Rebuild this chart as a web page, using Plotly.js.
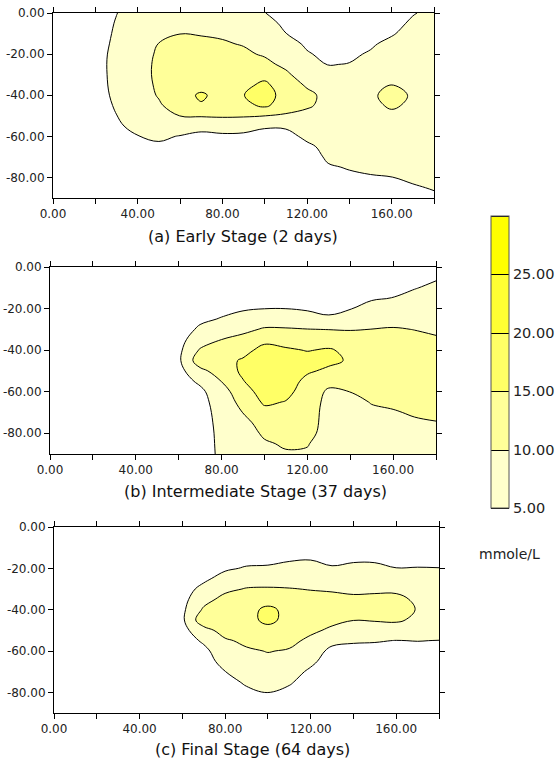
<!DOCTYPE html>
<html>
<head>
<meta charset="utf-8">
<script src="https://cdn.plot.ly/plotly-3.0.1.min.js"></script>
<style>html,body{margin:0;padding:0;background:#fff;}#chart{width:558px;height:764px;}</style>
</head>
<body>
<div id="chart"></div>
<script>
// grid coordinates (distance, depth)
const xGrid = [0,10,20,30,40,50,60,70,80,90,100,110,120,130,140,150,160,170,180];
const yGrid = [0,-5,-10,-15,-20,-25,-30,-35,-40,-45,-50,-55,-60,-65,-70,-75,-80,-85,-90];

// concentration (mmole/L), one array per x column, values from depth 0 down to -90
const zEarly = [
  [1.5,1.5,1.5,1.5,1.5,1.5,1.5,1.5,1.5,1.5,1.5,1.5,1.5,1.5,1.5,1.5,1.5,1.5,1.5],
  [2.5,2.6,2.7,2.8,2.8,2.8,2.8,2.8,2.8,2.7,2.6,2.4,2.2,2,1.9,1.8,1.7,1.6,1.5],
  [3.8,3.9,4,4,4,4,4,4,4,3.9,3.7,3.4,3,2.6,2.3,2,2,2,2],
  [4.95,5.15,5.3,5.5,5.75,5.85,5.8,5.7,5.5,5.25,4.95,4.5,4,3.5,3,2.6,2.3,2,2],
  [6,6.5,7,7.6,8.1,8.4,8.5,8.4,8.1,7.6,6.8,5.9,4.9,4,3.3,2.8,2.4,2.1,2],
  [7,7.8,9,10.1,10.6,10.8,10.8,10.6,10.3,9.5,8.3,7.2,5.7,4.3,3.5,3,2.6,2.3,2.1],
  [8.2,9.1,9.95,11,11.6,12,12.3,12.6,12.8,12,10.05,7.5,4.8,3.8,3.2,2.8,2.5,2.2,2],
  [8.5,9.2,9.7,11,11.8,12.3,12.7,13,15.8,14.5,10.2,8,2.7,2.4,2.2,2.1,2,2,2],
  [8.6,9.2,9.6,10.3,11.2,11.8,12.3,12.8,13,12.5,10.3,8.3,3.7,3,2.6,2.3,2.1,2,2],
  [8.6,9,9.4,9.8,10.6,11.6,12.6,13.8,14.9,13.8,10.3,7.7,3.6,3,2.6,2.3,2.1,2,2],
  [5.1,6.5,7.8,8.8,9.6,11,13.5,16,17,15.8,10.05,5.5,3.5,2.9,2.5,2.3,2.1,2,2],
  [3.2,4.1,5.05,6.3,7.7,9.1,10.8,12.2,13.2,12.6,9.3,5.5,3.8,3.2,2.8,2.5,2.3,2.1,2],
  [2.5,3,3.7,4.5,5.3,6.4,7.7,9.5,11,10.6,8.7,7.2,5.8,4.3,3.5,3,2.6,2.4,2.2],
  [2,2.5,3,3.6,4.2,4.9,6,7.5,8.8,8.7,8,7.3,6.6,6,5.5,4.7,4,3.4,3],
  [2.3,2.8,3.4,4,4.5,5.1,6.3,7.3,7.8,7.8,7.5,7,6.5,6.1,5.7,5.2,4.5,3.8,3.2],
  [3,3.5,4,4.6,5.3,6.2,7.2,8.2,9.2,8.9,8,7.3,6.8,6.4,6,5.5,4.8,4,3.4],
  [3.5,4,4.7,5.8,6.8,7.7,8.6,10.05,11.5,10.6,9,7.8,7.1,6.7,6.3,5.8,4.95,4.2,3.6],
  [4.8,5.5,6.2,6.9,7.5,8,8.6,9.1,9.5,9.2,8.5,7.7,7.2,6.8,6.5,6.1,5.5,4.7,4],
  [5.8,6.3,6.8,7.2,7.6,8,8.3,8.5,8.6,8.4,8,7.6,7.2,6.9,6.6,6.2,5.8,5.2,4.5]
];

const zIntermediate = [
  [1,1,1,1,1,1,1,1,1,1,1,1,1,1,1,1,1,1,1],
  [1.1,1.1,1.1,1.1,1.1,1.1,1.1,1.1,1.1,1.1,1.1,1.1,1.1,1.1,1.1,1.1,1.1,1.1,1.1],
  [1.2,1.2,1.2,1.2,1.2,1.2,1.2,1.2,1.2,1.2,1.2,1.2,1.2,1.2,1.2,1.2,1.2,1.2,1.2],
  [1.3,1.3,1.3,1.3,1.3,1.3,1.3,1.3,1.3,1.3,1.3,1.3,1.3,1.3,1.3,1.3,1.3,1.3,1.3],
  [1.4,1.4,1.4,1.5,1.5,1.6,1.7,1.8,1.9,2,1.9,1.8,1.7,1.6,1.6,1.5,1.5,1.5,1.5],
  [1.2,1.3,1.5,1.7,2,2.3,2.6,2.9,3.1,3.2,2.9,2.6,2.3,2.1,2,1.9,1.9,1.9,1.9],
  [1.2,1.4,1.7,2,2.4,2.8,3.2,3.6,3.9,4.1,3.5,3,2.6,2.3,2.1,2,2,2,2],
  [1.5,2,2.5,3,3.6,4.3,5.6,7.5,10.5,13,8.6,5.8,4,3.4,3,2.8,2.6,2.5,2.4],
  [1.8,2.2,2.7,3.3,4.1,5.2,7.4,10.05,12,13.5,12.5,10.1,8,7.2,6.8,6.5,6.3,6.2,6.1],
  [2,2.5,3.1,3.8,4.6,6.4,8.8,11.5,13.5,15.5,15.8,14.8,13,11.5,10.1,8.5,7.5,7,6.8],
  [2.2,2.7,3.3,4,4.95,7.4,10.5,13.8,16.5,18,18.2,17.8,17,15.7,13.6,12,10.8,9.4,8.6],
  [2.3,2.8,3.4,4.1,4.97,7.5,10.4,13.2,15.6,17.5,17.8,17.2,16.2,14.8,13.5,12.5,11.6,10.6,9.5],
  [2.4,2.9,3.5,4.2,4.5,6.8,10.1,12.8,14.8,16.6,15.6,13.8,13,12.6,12.3,12.2,11.6,10.3,9.4],
  [2.5,3,3.6,3.9,4.2,5.5,9.9,13,15.4,16,14.2,11.5,9.2,8.5,8.2,8,7.8,7.5,7.3],
  [2.7,3.2,3.8,4.4,4.85,7,9.7,12.5,14,14.5,13.4,11.8,10.05,8.8,8.3,8,7.8,7.6,7.4],
  [3,3.6,4.2,4.7,6,7.8,10.05,11.8,12.8,13.2,13,12.2,11.3,10.2,9.3,8.7,8.3,8,7.8],
  [3.3,3.9,4.5,5.05,6.4,8.2,10.4,11.8,12.5,12.8,12.7,12.2,11.5,10.7,9.7,9,8.6,8.3,8.1],
  [3.6,4.1,4.85,5.9,7,8.4,9.9,11.2,12,12.4,12.4,12,11.5,11,10.4,9.5,8.9,8.6,8.4],
  [4,4.7,5.6,6.5,7.4,8.3,9.3,10.5,11.4,11.9,12,11.8,11.4,11,10.5,9.9,9.3,8.9,8.7]
];

const zFinal = [
  [1,1,1,1,1,1,1,1,1,1,1,1,1,1,1,1,1,1,1],
  [1.1,1.1,1.1,1.1,1.1,1.1,1.1,1.1,1.1,1.1,1.1,1.1,1.1,1.1,1.1,1.1,1.1,1.1,1.1],
  [1.2,1.2,1.2,1.2,1.2,1.2,1.2,1.2,1.2,1.2,1.2,1.2,1.2,1.2,1.2,1.2,1.2,1.2,1.2],
  [1.3,1.3,1.3,1.3,1.3,1.3,1.3,1.3,1.3,1.3,1.3,1.3,1.3,1.3,1.3,1.3,1.3,1.3,1.3],
  [1.4,1.4,1.4,1.5,1.6,1.7,1.8,1.9,2,2,1.9,1.8,1.6,1.5,1.4,1.4,1.4,1.4,1.4],
  [1.1,1.2,1.4,1.7,2,2.3,2.6,2.8,3,3.1,2.9,2.5,2.1,1.9,1.7,1.6,1.5,1.4,1.4],
  [1.2,1.4,1.7,2.1,2.6,3.1,3.5,3.6,4,4.1,3.6,3,2.5,2.2,2,1.8,1.7,1.6,1.5],
  [1.5,1.8,2.2,2.7,3.3,4.3,6,8.3,10.7,13.5,8,5.6,4,3.4,2.9,2.5,2.2,2,1.8],
  [1.8,2.2,2.8,3.5,4.5,6.3,8.9,11.5,13,13.8,12.2,9.3,7.5,6.3,4.95,3.8,3,2.6,2.3],
  [2,2.5,3.1,3.9,5.3,7.5,10.3,12,13.2,13.3,12.4,11.1,9.3,7.8,6.6,5.5,4.3,3.5,3],
  [2.2,2.7,3.3,4.1,5.4,7.6,10.5,12.7,16.2,16.3,13.3,11.8,10.2,8.8,7.4,6.2,5.1,4,3.3],
  [2.4,3,3.7,4.5,6,8,10.2,12,13.5,13.4,12.5,11.2,9.6,8,6.7,5.4,4.2,3.5,3],
  [2.6,3.2,3.9,4.7,6.2,8,9.8,11.5,12.3,12,10.9,9,7.4,5.9,4.3,3.5,3,2.7,2.5],
  [2.6,3.1,3.7,4.4,5.2,7.3,9.6,11,11.6,11.1,9.2,6.3,3.8,3,2.6,2.4,2.2,2.1,2],
  [2.7,3.3,3.9,4.6,5.5,7.5,9.1,10.8,11.4,10.1,7.8,5.5,3.6,3,2.6,2.4,2.2,2.1,2],
  [2.7,3.3,3.9,4.5,5.6,7.4,9.2,11,11.5,10.3,8,5.3,3.6,3,2.6,2.4,2.2,2.1,2],
  [2.5,3,3.5,4.1,5.05,6.8,9.2,11,11.5,10.5,8.2,4.9,3.4,3,2.6,2.4,2.2,2.1,2],
  [2.5,3,3.5,4.2,5.1,6.6,8.2,9.3,9.8,9.3,7.9,5.1,3.5,3,2.6,2.4,2.2,2.1,2],
  [2.5,3,3.5,4.2,5.05,6.3,7.5,8.3,8.6,8.3,7.3,4.9,3.5,3,2.6,2.4,2.2,2.1,2]
];

const panelTitles = ['(a) Early Stage (2 days)', '(b) Intermediate Stage (37 days)', '(c) Final Stage (64 days)'];
const xTickVals = [0,20,40,60,80,100,120,140,160,180];
const xTickText = ['0.00','','40.00','','80.00','','120.00','','160.00',''];
const yTickVals = [0,-20,-40,-60,-80];
const yTickText = ['0.00','-20.00','-40.00','-60.00','-80.00'];
const levelTickVals = [5,10,15,20,25];
const levelTickText = ['5.00','10.00','15.00','20.00','25.00'];
const unitLabel = 'mmole/L';

const W = 558, H = 764;
const FONT = 'DejaVu Sans, Verdana, sans-serif';

const scale = [
  [0,'#ffffff'],[0.02,'#ffffff'],
  [0.02,'#ffffcc'],[0.2,'#ffffcc'],
  [0.2,'#ffff99'],[0.4,'#ffff99'],
  [0.4,'#ffff66'],[0.6,'#ffff66'],
  [0.6,'#ffff33'],[0.8,'#ffff33'],
  [0.8,'#ffff00'],[1,'#ffff00']
];

// pixel boxes for panels [left, right, top, bottom]
const boxes = [[53,434,13,198],[50,436,267,454],[54,439,527,713]];
const titlePos = [[243,237],[255,492],[252,749]];
const zs = [zEarly, zIntermediate, zFinal];

const traces = zs.map((z, i) => {
  const t = {
    type: 'contour',
    x: xGrid, y: yGrid, z: z, transpose: true,
    xaxis: i === 0 ? 'x' : 'x' + (i + 1),
    yaxis: i === 0 ? 'y' : 'y' + (i + 1),
    autocontour: false,
    contours: {start: 5, end: 30, size: 5, coloring: 'fill', showlines: true},
    line: {color: '#000', width: 1, smoothing: 1.1},
    zmin: 5, zmax: 30,
    colorscale: scale,
    showscale: i === 0,
    hoverinfo: 'skip'
  };
  if (i === 0) {
    t.colorbar = {
      x: 491 / W, xanchor: 'left', xref: 'paper',
      y: 1 - 362 / H, yanchor: 'middle', yref: 'paper',
      len: 292, lenmode: 'pixels',
      thickness: 18, thicknessmode: 'pixels',
      xpad: 0, ypad: 0,
      outlinewidth: 1, outlinecolor: '#555',
      tickmode: 'array', tickvals: levelTickVals, ticktext: levelTickText,
      ticks: '', ticklabelpad: 5,
      tickfont: {family: FONT, size: 14.5, color: '#222'}
    };
  }
  return t;
});

const layout = {
  width: W, height: H,
  margin: {l: 0, r: 0, t: 0, b: 0},
  paper_bgcolor: '#fff', plot_bgcolor: '#fff',
  showlegend: false,
  annotations: [],
  font: {family: FONT}
};

boxes.forEach((b, i) => {
  const s = i === 0 ? '' : String(i + 1);
  const common = {
    showgrid: false, zeroline: false, showline: true,
    linecolor: '#000', linewidth: 1, mirror: 'ticks',
    ticks: 'outside', ticklen: 5, tickcolor: '#000', tickwidth: 1,
    tickfont: {family: FONT, size: 12, color: '#222'},
    fixedrange: true
  };
  layout['xaxis' + s] = Object.assign({}, common, {
    domain: [b[0] / W, b[1] / W], range: [0, 180],
    anchor: 'y' + s,
    tickmode: 'array', tickvals: xTickVals, ticktext: xTickText
  });
  layout['yaxis' + s] = Object.assign({}, common, {
    domain: [1 - b[3] / H, 1 - b[2] / H], range: [-90, 0],
    anchor: 'x' + s,
    tickmode: 'array', tickvals: yTickVals, ticktext: yTickText
  });
  layout.annotations.push({
    xref: 'paper', yref: 'paper',
    x: titlePos[i][0] / W, y: 1 - titlePos[i][1] / H,
    xanchor: 'center', yanchor: 'middle',
    text: panelTitles[i], showarrow: false,
    font: {family: FONT, size: 16, color: '#111'}
  });
});

layout.annotations.push({
  xref: 'paper', yref: 'paper', x: 509 / W, y: 1 - 554 / H,
  xanchor: 'center', yanchor: 'middle', text: unitLabel, showarrow: false,
  font: {family: FONT, size: 14, color: '#222'}
});

Plotly.newPlot('chart', traces, layout, {staticPlot: true, displayModeBar: false});
</script>
</body>
</html>
